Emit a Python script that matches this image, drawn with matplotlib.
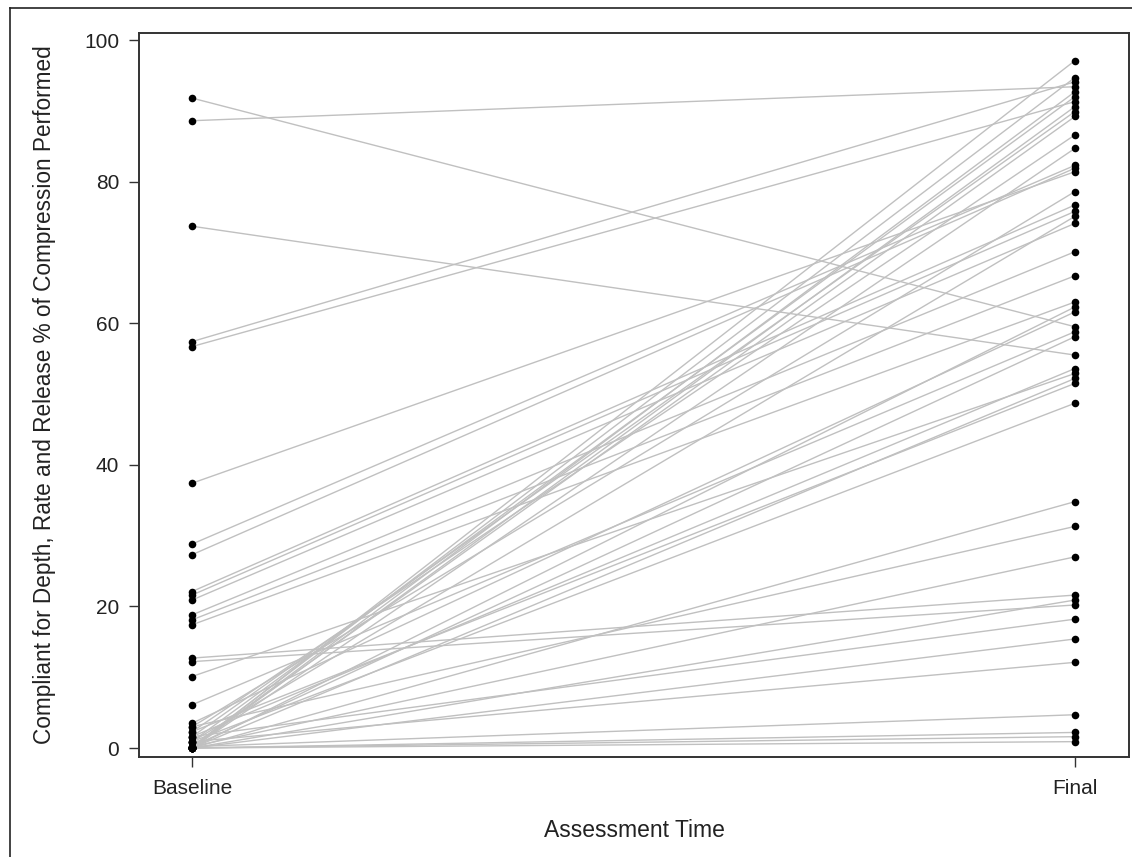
import matplotlib
matplotlib.use("Agg")
import matplotlib.pyplot as plt
from matplotlib.lines import Line2D

# Data: paired observations per subject (baseline -> final)
timepoints = ["Baseline", "Final"]
baseline = [91.8, 88.6, 73.7, 57.4, 56.7, 37.4, 28.8, 27.3, 22.1, 21.6, 20.9,
            18.8, 18.1, 17.4, 12.7, 12.2, 10.1, 6.1,
            0.0, 0.2, 0.0, 0.9, 0.0, 1.6, 0.2, 2.3, 0.0, 3.0, 0.9,
            0.0, 3.5, 0.2, 1.6, 0.0, 2.3, 0.9, 0.0, 3.0, 0.2, 0.0,
            1.6, 0.0, 0.9, 0.2, 0.0, 0.0, 0.0]
final = [59.5, 93.4, 55.5, 94.1, 91.3, 81.4, 82.3, 81.9, 76.7, 75.8, 74.1,
         70.1, 66.7, 63.0, 21.6, 20.2, 52.9, 58.8,
         97.1, 94.7, 92.7, 92.0, 90.6, 89.9, 89.2, 86.6, 84.7, 78.6, 75.1,
         62.3, 61.6, 58.1, 53.6, 52.2, 51.5, 48.7, 34.8, 31.3, 27.0, 20.9,
         18.2, 15.4, 12.1, 4.7, 2.2, 1.6, 0.9]
yticks = [0, 20, 40, 60, 80, 100]

plt.rcParams['font.family'] = ['Liberation Sans', 'DejaVu Sans']

fig = plt.figure(figsize=(11.32, 8.57), dpi=100)
ax = fig.add_axes([139/1132, 1-757/857, (1129-139)/1132, (757-33)/857])

xpos = [0, 1]
for b, f in zip(baseline, final):
    ax.plot(xpos, [b, f], color='#c0c0c0', lw=1.0, zorder=1, solid_capstyle='butt')
ax.scatter([0]*len(baseline), baseline, s=30, color='black', zorder=3, linewidths=0)
ax.scatter([1]*len(final), final, s=30, color='black', zorder=3, linewidths=0)

ax.set_xlim(-0.06, 1.0612)
ax.set_ylim(-1.27, 100.99)
ax.set_xticks(xpos)
ax.set_xticklabels(timepoints)
ax.set_yticks(yticks)
ax.set_yticklabels([str(t) for t in yticks])
ax.tick_params(axis='both', direction='out', length=7.2, width=1.0, color='#333333',
               labelsize=15, labelcolor='#222222', pad=7)
ax.tick_params(axis='x', pad=9)
for s in ax.spines.values():
    s.set_color('#333333')
    s.set_linewidth(1.4)

ax.set_xlabel("Assessment Time", fontsize=16.5, color='#222222', labelpad=15)
ax.set_ylabel("Compliant for Depth, Rate and Release % of Compression Performed",
              fontsize=16.3, color='#222222', labelpad=20)

# outer frame lines (left and top)
fig.add_artist(Line2D([10/1132, 10/1132], [0, 1-8/857], transform=fig.transFigure,
                      color='#222222', lw=1.2))
fig.add_artist(Line2D([10/1132, 1], [1-8/857, 1-8/857], transform=fig.transFigure,
                      color='#222222', lw=1.2))

fig.savefig("out.png", dpi=100)
